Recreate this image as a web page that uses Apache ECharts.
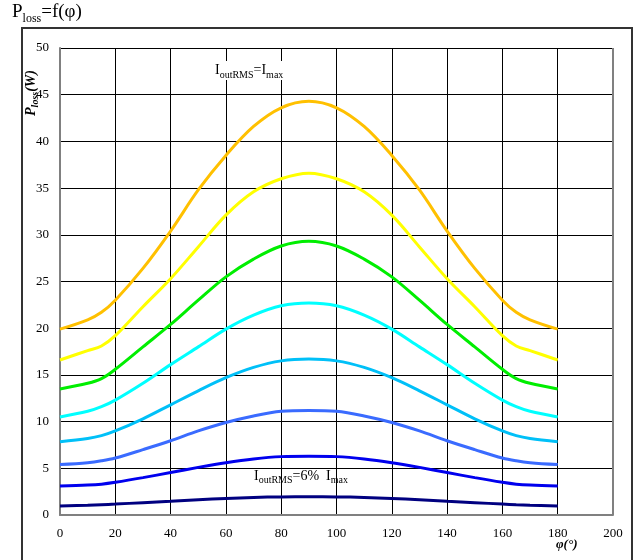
<!DOCTYPE html>
<html><head><meta charset="utf-8">
<script src="https://cdn.jsdelivr.net/npm/echarts@6/dist/echarts.min.js"></script>
<style>html,body{margin:0;padding:0;background:#fff}#c{width:635px;height:560px}</style>
</head><body><div id="c"></div>
<script>
const phi = [0,10,15,20,30,40,50,60,70,80,90,100,110,120,130,140,150,160,165,170,180];
const sOrange = [19.9,20.9,21.7,23.0,26.4,30.4,34.8,38.5,41.6,43.6,44.3,43.6,41.6,38.5,34.8,30.4,26.4,23.0,21.7,20.9,19.9];
const sYellow = [16.6,17.6,18.1,19.2,22.3,25.3,28.7,32.1,34.6,36.0,36.6,36.0,34.6,32.1,28.7,25.3,22.3,19.2,18.1,17.6,16.6];
const sGreen  = [13.5,14.1,14.6,15.6,18.0,20.4,23.0,25.5,27.4,28.8,29.3,28.8,27.4,25.5,23.0,20.4,18.0,15.6,14.6,14.1,13.5];
const sCyan   = [10.5,11.1,11.6,12.3,14.1,16.1,18.0,19.9,21.4,22.4,22.7,22.4,21.4,19.9,18.0,16.1,14.1,12.3,11.6,11.1,10.5];
const sSky    = [7.85,8.2,8.5,9.0,10.3,11.8,13.3,14.7,15.8,16.5,16.7,16.5,15.8,14.7,13.3,11.8,10.3,9.0,8.5,8.2,7.85];
const sRoyal  = [5.4,5.6,5.8,6.1,7.0,7.95,9.0,9.9,10.6,11.1,11.2,11.1,10.6,9.9,9.0,7.95,7.0,6.1,5.8,5.6,5.4];
const sBlue   = [3.1,3.2,3.3,3.5,4.0,4.55,5.1,5.6,6.0,6.25,6.3,6.25,6.0,5.6,5.1,4.55,4.0,3.5,3.3,3.2,3.1];
const sNavy   = [0.96,1.04,1.1,1.17,1.32,1.47,1.63,1.77,1.88,1.94,1.96,1.94,1.88,1.77,1.63,1.47,1.32,1.17,1.1,1.04,0.96];
const seriesList = [sOrange,sYellow,sGreen,sCyan,sSky,sRoyal,sBlue,sNavy];
const colors = ['#FFC000','#FFFF00','#00EE00','#00FFFF','#00C0F8','#3A6BFF','#0000EE','#000080'];

const F = 'Liberation Serif, Times New Roman, serif';
const chart = echarts.init(document.getElementById('c'), null, {renderer:'canvas'});
const subRich = (big, small) => ({
  n:{fontSize:big, lineHeight:big+5, fontFamily:F, color:'#000'},
  s:{fontSize:small, lineHeight:small, verticalAlign:'bottom', fontFamily:F, color:'#000'}
});
chart.setOption({
  animation:false,
  backgroundColor:'#fff',
  grid:{left:60, right:22, top:48, bottom:45, show:false},
  xAxis:{type:'value', min:0, max:200, interval:20,
    axisLine:{show:true, onZero:false, lineStyle:{color:'#808080', width:2}},
    axisTick:{show:false},
    axisLabel:{color:'#000', fontFamily:F, fontSize:13, margin:12},
    splitLine:{show:true, lineStyle:{color:'#000', width:1}}},
  yAxis:{type:'value', min:0, max:50, interval:5,
    axisLine:{show:true, lineStyle:{color:'#808080', width:2}},
    axisTick:{show:false},
    axisLabel:{color:'#000', fontFamily:F, fontSize:13, margin:11},
    splitLine:{show:true, lineStyle:{color:'#000', width:1}}},
  series: seriesList.map((arr,i)=>({
    type:'line', data: phi.map((p,j)=>[p, arr[j]]), smooth:0.35, showSymbol:false,
    lineStyle:{color:colors[i], width:3}, z:3+i
  })),
  graphic:[
    {type:'rect', shape:{x:22, y:28, width:610, height:540}, style:{fill:'none', stroke:'#333', lineWidth:2}, z:1},
    {type:'line', shape:{x1:613, y1:48, x2:613, y2:515}, style:{stroke:'#808080', lineWidth:2}, z:10},
    {type:'text', left:12, top:3, style:{text:'{n|P}{s|loss}{n|=f(φ)}', rich:subRich(19,12)}, z:10},
    {type:'text', left:215, top:61, style:{text:'{n|I}{s|outRMS}{n|=I}{s|max}', rich:subRich(14,10), backgroundColor:'#fff'}, z:10},
    {type:'text', left:254, top:469, style:{text:'{n|I}{s|outRMS}{n|=6%  I}{s|max}', rich:subRich(14,10)}, z:10},
    {type:'text', x:31, y:93, rotation:Math.PI/2, style:{text:'{n|P}{s|loss}{n|(W)}', align:'center', verticalAlign:'middle',
      rich:{n:{fontSize:14, lineHeight:19, fontFamily:F, fontStyle:'italic', fontWeight:'bold', color:'#000'},
            s:{fontSize:10, lineHeight:10, verticalAlign:'bottom', fontFamily:F, fontStyle:'italic', fontWeight:'bold', color:'#000'}}}, z:10},
    {type:'text', left:556, top:538, style:{text:'φ(°)', font:'italic bold 13px '+F, fill:'#000'}, z:10}
  ]
});
</script></body></html>
